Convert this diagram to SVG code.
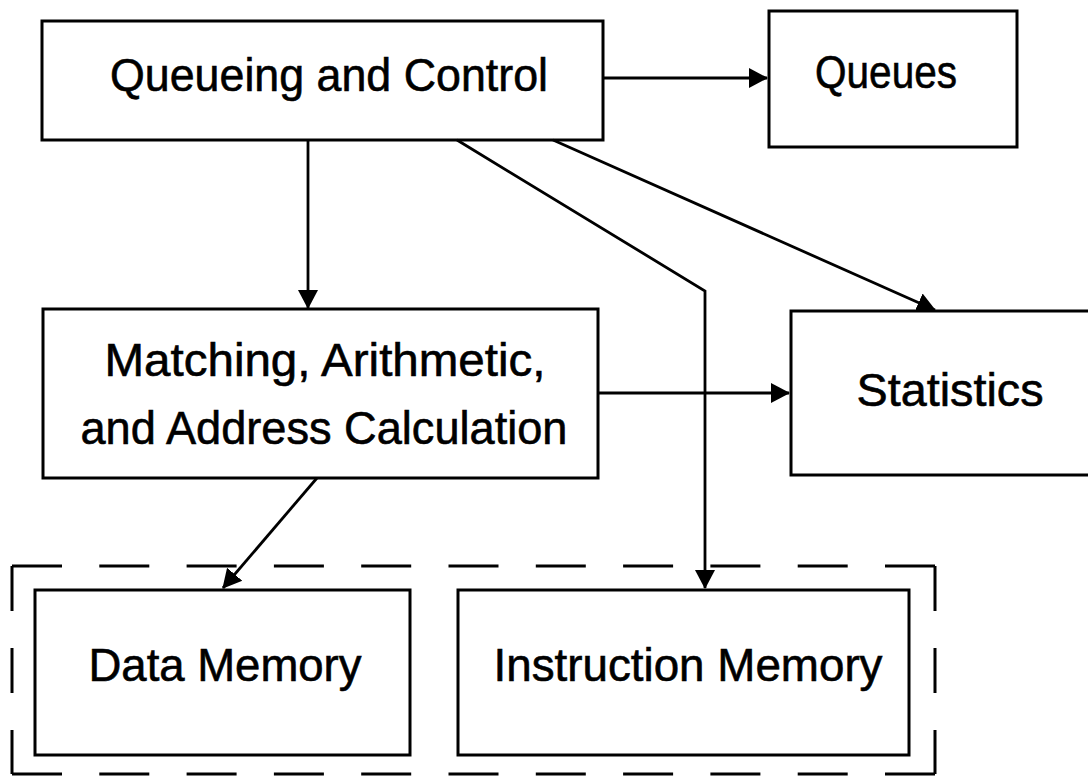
<svg xmlns="http://www.w3.org/2000/svg" width="1088" height="779" viewBox="0 0 1088 779">
  <style>
    .box { fill: #fff; stroke: #000; stroke-width: 3; }
    .lbl { font-family: "Liberation Sans", Arial, sans-serif; font-size: 46px; fill: #000; stroke: #000; stroke-width: 0.6; text-anchor: middle; }
    .wire { fill: none; stroke: #000; stroke-width: 2.8; }
    .frame { stroke: #000; stroke-width: 3; }
    .fh { stroke-dasharray: 50 37.3; }
    .fv { stroke-dasharray: 45 37; }
  </style>
  <defs>
    <!-- solid triangular arrowhead, tip at the path end -->
    <marker id="head" markerUnits="userSpaceOnUse" markerWidth="22" markerHeight="24" refX="18" refY="11" orient="auto">
      <path d="M0,1 L19,11 L0,21 Z" fill="#000"/>
    </marker>
  </defs>
  <rect width="1088" height="779" fill="#fff"/>

  <!-- memory group outline -->
  <g id="memory-group">
    <line class="frame fh" x1="12" y1="566" x2="935" y2="566"/>
    <line class="frame fh" x1="12" y1="774" x2="935" y2="774"/>
    <line class="frame fv" x1="12" y1="566" x2="12" y2="774"/>
    <line class="frame fv" x1="935" y1="566" x2="935" y2="774"/>
  </g>

  <g id="queueing-control">
    <rect class="box" x="42" y="21" width="561" height="119"/>
    <text class="lbl" x="329" y="91" textLength="438" lengthAdjust="spacingAndGlyphs">Queueing and Control</text>
  </g>

  <g id="queues">
    <rect class="box" x="769" y="11" width="248" height="136"/>
    <text class="lbl" x="886" y="88" textLength="142" lengthAdjust="spacingAndGlyphs">Queues</text>
  </g>

  <g id="matching">
    <rect class="box" x="43" y="309" width="555" height="169"/>
    <text class="lbl" x="325" y="376" textLength="441" lengthAdjust="spacingAndGlyphs">Matching, Arithmetic,</text>
    <text class="lbl" x="324" y="444" textLength="487" lengthAdjust="spacingAndGlyphs">and Address Calculation</text>
  </g>

  <g id="statistics">
    <rect class="box" x="791" y="311" width="320" height="164"/>
    <text class="lbl" x="950" y="406" textLength="187" lengthAdjust="spacingAndGlyphs">Statistics</text>
  </g>

  <g id="data-memory">
    <rect class="box" x="35" y="590" width="375" height="165"/>
    <text class="lbl" x="225" y="681" textLength="273" lengthAdjust="spacingAndGlyphs">Data Memory</text>
  </g>

  <g id="instruction-memory">
    <rect class="box" x="458" y="590" width="451" height="165"/>
    <text class="lbl" x="688" y="681" textLength="389" lengthAdjust="spacingAndGlyphs">Instruction Memory</text>
  </g>

  <g id="connectors">
    <path class="wire" d="M603,78 L767,78" marker-end="url(#head)"/>
    <path class="wire" d="M308,140 L308,308" marker-end="url(#head)"/>
    <path class="wire" d="M457,140 L705,291 L705,588" marker-end="url(#head)"/>
    <path class="wire" d="M553,140 L935,310" marker-end="url(#head)"/>
    <path class="wire" d="M598,393 L789,393" marker-end="url(#head)"/>
    <path class="wire" d="M317,478 L223,588" marker-end="url(#head)"/>
  </g>
</svg>
